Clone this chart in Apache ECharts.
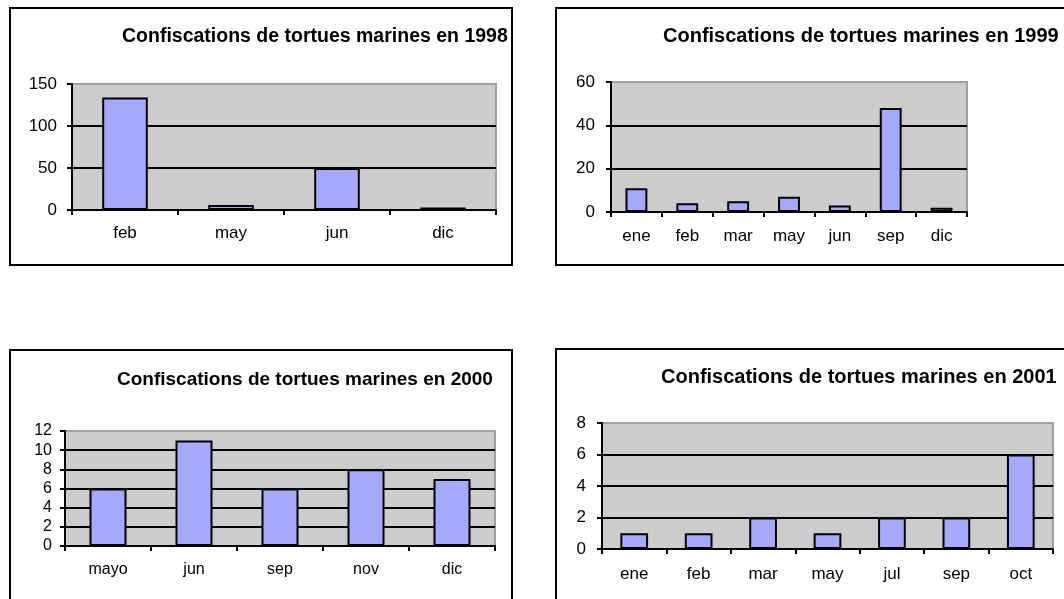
<!DOCTYPE html>
<html>
<head>
<meta charset="utf-8">
<script src="https://cdn.jsdelivr.net/npm/echarts@6/dist/echarts.min.js"></script>
<style>
  html, body { margin: 0; padding: 0; background: #fff; overflow: hidden; width: 1064px; height: 599px; }
  .panel { position: absolute; border: 2px solid #000; box-sizing: border-box; background: #fff; }
  .panel .main { width: 100%; height: 100%; }
  #p1998 { left: 9px; top: 7px; width: 504px; height: 259px; }
  #p1999 { left: 555px; top: 7px; width: 530px; height: 259px; }
  #p2000 { left: 9px; top: 349px; width: 504px; height: 270px; }
  #p2001 { left: 555px; top: 348px; width: 530px; height: 270px; }
</style>
</head>
<body>
<div class="panel" id="p1998"><div class="main"></div></div>
<div class="panel" id="p1999"><div class="main"></div></div>
<div class="panel" id="p2000"><div class="main"></div></div>
<div class="panel" id="p2001"><div class="main"></div></div>
<script>
  // values
  var months1998 = ['feb', 'may', 'jun', 'dic']
  var values1998 = [134, 6, 50, 3]

  var months1999 = ['ene', 'feb', 'mar', 'may', 'jun', 'sep', 'dic']
  var values1999 = [11, 4, 5, 7, 3, 48, 2]

  var months2000 = ['mayo', 'jun', 'sep', 'nov', 'dic']
  var values2000 = [6, 11, 6, 8, 7]

  var months2001 = ['ene', 'feb', 'mar', 'may', 'jul', 'sep', 'oct']
  var values2001 = [1, 1, 2, 1, 2, 2, 6]

  var FONT = '"Liberation Sans", Arial, sans-serif'

  function makeOption(cfg) {
    return {
      animation: false,
      title: {
        text: cfg.title,
        left: cfg.titleLeft,
        top: cfg.titleTop,
        padding: 0,
        textStyle: { fontFamily: FONT, fontSize: cfg.titleSize, fontWeight: 'bold', color: '#000' }
      },
      grid: {
        left: cfg.grid[0], top: cfg.grid[1], width: cfg.grid[2], height: cfg.grid[3],
        show: true,
        backgroundColor: '#cccccc',
        borderColor: '#a0a0a0',
        borderWidth: 2,
        containLabel: false
      },
      xAxis: {
        type: 'category',
        data: cfg.categories,
        axisLine: { lineStyle: { color: '#000', width: 2 } },
        axisTick: { show: true, length: 5, lineStyle: { color: '#000', width: 2 } },
        axisLabel: { color: '#000', fontFamily: FONT, fontSize: cfg.labelSize, margin: cfg.xMargin }
      },
      yAxis: {
        type: 'value',
        min: 0,
        max: cfg.max,
        interval: cfg.interval,
        axisLine: { show: true, lineStyle: { color: '#000', width: 2 } },
        axisTick: { show: true, length: 5, lineStyle: { color: '#000', width: 2 } },
        axisLabel: { color: '#000', fontFamily: FONT, fontSize: cfg.labelSize, margin: cfg.yMargin },
        splitLine: { show: true, showMaxLine: false, lineStyle: { color: '#000', width: 2 } }
      },
      series: [{
        type: 'bar',
        data: cfg.values,
        barCategoryGap: '57%',
        itemStyle: { color: '#a6aaff', borderColor: '#000', borderWidth: 2 }
      }]
    }
  }

  var panels = [
    { id: 'p1998', title: 'Confiscations de tortues marines en 1998', categories: months1998, values: values1998,
      max: 150, interval: 50, titleLeft: 111, titleTop: 18, titleSize: 19.5, labelSize: 17,
      xMargin: 15, yMargin: 15, grid: [61, 75, 424, 126] },
    { id: 'p1999', title: 'Confiscations de tortues marines en 1999', categories: months1999, values: values1999,
      max: 60, interval: 20, titleLeft: 106, titleTop: 17, titleSize: 20, labelSize: 17,
      xMargin: 16, yMargin: 16, grid: [54, 73, 356, 130] },
    { id: 'p2000', title: 'Confiscations de tortues marines en 2000', categories: months2000, values: values2000,
      max: 12, interval: 2, titleLeft: 106, titleTop: 19, titleSize: 19, labelSize: 16,
      xMargin: 16, yMargin: 13, grid: [54, 80, 430, 115] },
    { id: 'p2001', title: 'Confiscations de tortues marines en 2001', categories: months2001, values: values2001,
      max: 8, interval: 2, titleLeft: 104, titleTop: 17, titleSize: 20, labelSize: 17,
      xMargin: 17, yMargin: 16, grid: [45, 73, 451, 126] }
  ]

  panels.forEach(function (p) {
    var chart = echarts.init(document.querySelector('#' + p.id + ' .main'), null, { renderer: 'canvas' })
    chart.setOption(makeOption(p))
  })
</script>
</body>
</html>
